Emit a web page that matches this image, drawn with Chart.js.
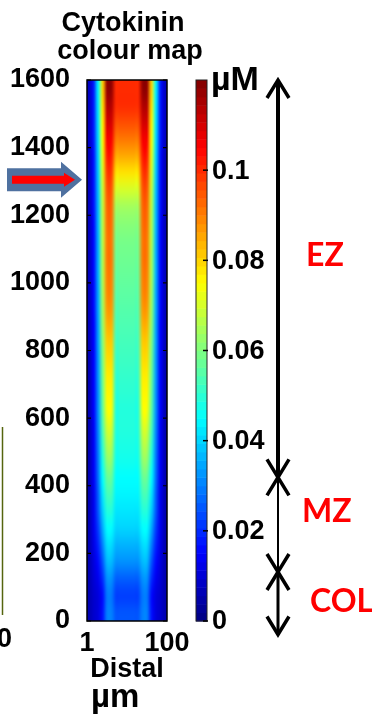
<!DOCTYPE html>
<html>
<head>
<meta charset="utf-8">
<script src="https://cdn.jsdelivr.net/npm/chart.js@4.4.1/dist/chart.umd.min.js"></script>
<style>
    html, body { margin: 0; padding: 0; background: #fff; }
    #wrap { position: relative; width: 372px; height: 714px; overflow: hidden; }
</style>
</head>
<body>
<div id="wrap"><canvas id="mapChart" width="372" height="714"></canvas></div>
<script>
// distance from the root tip (µm), row centres from bottom to top
const rowCentres = [25, 75, 125, 175, 225, 275, 325, 375, 425, 475, 525, 575, 625, 675, 725, 775,
    825, 875, 925, 975, 1025, 1075, 1125, 1175, 1225, 1275, 1325, 1375, 1425, 1475, 1525, 1575];

// cytokinin (µM) read across the root width, one array per radial band
const rimConc = [0.006, 0.006, 0.006, 0.006, 0.006, 0.006, 0.006, 0.006, 0.006, 0.006, 0.006, 0.006, 0.006, 0.006, 0.006, 0.006,
    0.007, 0.007, 0.007, 0.007, 0.007, 0.007, 0.007, 0.007, 0.007, 0.007, 0.007, 0.007, 0.008, 0.008, 0.008, 0.008];
const outerConc = [0.009, 0.009, 0.010, 0.011, 0.012, 0.013, 0.013, 0.013, 0.014, 0.014, 0.014, 0.014, 0.015, 0.015, 0.015, 0.015,
    0.015, 0.015, 0.016, 0.016, 0.016, 0.016, 0.016, 0.016, 0.017, 0.017, 0.017, 0.017, 0.018, 0.018, 0.018, 0.018];
const flankConc = [0.011, 0.011, 0.013, 0.016, 0.019, 0.022, 0.025, 0.026, 0.028, 0.029, 0.030, 0.031, 0.032, 0.032, 0.033, 0.033,
    0.034, 0.034, 0.035, 0.035, 0.036, 0.036, 0.036, 0.037, 0.037, 0.038, 0.039, 0.040, 0.041, 0.042, 0.043, 0.044];
const edgeConc = [0.017, 0.016, 0.020, 0.025, 0.030, 0.035, 0.039, 0.042, 0.045, 0.048, 0.051, 0.054, 0.056, 0.057, 0.058, 0.059,
    0.060, 0.062, 0.063, 0.064, 0.065, 0.065, 0.066, 0.066, 0.067, 0.068, 0.070, 0.072, 0.074, 0.076, 0.078, 0.080];
const peakConc = [0.030, 0.029, 0.032, 0.037, 0.041, 0.045, 0.049, 0.053, 0.057, 0.062, 0.066, 0.070, 0.074, 0.076, 0.077, 0.079,
    0.081, 0.084, 0.087, 0.089, 0.090, 0.091, 0.091, 0.092, 0.093, 0.095, 0.098, 0.102, 0.106, 0.110, 0.114, 0.118];
const centreConc = [0.025, 0.022, 0.026, 0.032, 0.036, 0.040, 0.042, 0.044, 0.045, 0.047, 0.048, 0.049, 0.049, 0.050, 0.051, 0.052,
    0.053, 0.054, 0.055, 0.056, 0.057, 0.058, 0.059, 0.061, 0.064, 0.070, 0.078, 0.085, 0.091, 0.096, 0.100, 0.100];

// which band each of the 18 columns (1..100 µm across) belongs to
const colProfile = ['rim', 'outer', 'flank', 'edge', 'peak', 'peak', 'centre', 'centre', 'centre',
    'centre', 'centre', 'centre', 'peak', 'peak', 'edge', 'flank', 'outer', 'rim'];

const xTicks = [1, 100];
const yTicks = [0, 200, 400, 600, 800, 1000, 1200, 1400, 1600];
const cbTicks = [0, 0.02, 0.04, 0.06, 0.08, 0.1];
const cbMax = 0.12;

const zoneNames = ['EZ', 'MZ', 'COL'];
const zoneTop = [1600, 425, 145];
const zoneBottom = [425, 145, -40];
const zoneLabelAt = [1080, 322, 56];
const arrowAt = 1305;

const boldFont = 'bold 27px "Liberation Sans", Arial, sans-serif';

function jet(v) {
    const t = Math.min(Math.max(v / cbMax, 0), 1);
    const ch = c => Math.round(255 * Math.min(Math.max(1.5 - Math.abs(4 * t - c), 0), 1));
    return [ch(3), ch(2), ch(1)];
}

function buildMapImage() {
    const profiles = { rim: rimConc, outer: outerConc, flank: flankConc, edge: edgeConc, peak: peakConc, centre: centreConc };
    const off = document.createElement('canvas');
    off.width = colProfile.length;
    off.height = rowCentres.length;
    const octx = off.getContext('2d');
    const img = octx.createImageData(off.width, off.height);
    rowCentres.forEach((_, r) => {
        const py = off.height - 1 - r;
        colProfile.forEach((name, c) => {
            const rgb = jet(profiles[name][r]);
            const i = (py * off.width + c) * 4;
            img.data[i] = rgb[0];
            img.data[i + 1] = rgb[1];
            img.data[i + 2] = rgb[2];
            img.data[i + 3] = 255;
        });
    });
    octx.putImageData(img, 0, 0);
    return off;
}

function doubleArrow(ctx, x, yTop, yBot, lw) {
    ctx.save();
    ctx.strokeStyle = '#000';
    ctx.lineWidth = lw;
    ctx.beginPath();
    ctx.moveTo(x, yTop + 2);
    ctx.lineTo(x, yBot - 2);
    ctx.stroke();
    ctx.lineWidth = 3.5;
    ctx.lineJoin = 'miter';
    ctx.beginPath();
    ctx.moveTo(x - 11, yTop + 18);
    ctx.lineTo(x, yTop);
    ctx.lineTo(x + 11, yTop + 18);
    ctx.moveTo(x - 11, yBot - 18);
    ctx.lineTo(x, yBot);
    ctx.lineTo(x + 11, yBot - 18);
    ctx.stroke();
    ctx.restore();
}

const mapPlugin = {
    id: 'cytokininMap',
    beforeDatasetsDraw(chart) {
        const { ctx, chartArea, scales } = chart;
        const step = rowCentres[1] - rowCentres[0];
        const left = scales.x.getPixelForValue(xTicks[0]);
        const right = scales.x.getPixelForValue(xTicks[1]);
        const top = scales.y.getPixelForValue(rowCentres[rowCentres.length - 1] + step / 2);
        const bottom = scales.y.getPixelForValue(rowCentres[0] - step / 2);
        ctx.save();
        ctx.beginPath();
        ctx.rect(chartArea.left, chartArea.top, chartArea.width, chartArea.height);
        ctx.clip();
        ctx.imageSmoothingEnabled = true;
        ctx.imageSmoothingQuality = 'high';
        ctx.drawImage(buildMapImage(), left, top, right - left, bottom - top);
        ctx.restore();
    },
    afterDraw(chart) {
        const { ctx, chartArea, scales } = chart;
        const y = scales.y, c = scales.c;

        // frame and inner ticks
        ctx.save();
        ctx.strokeStyle = '#000';
        ctx.lineWidth = 1.5;
        ctx.strokeRect(chartArea.left, chartArea.top, chartArea.width, chartArea.height);
        ctx.lineWidth = 1.2;
        yTicks.forEach(v => {
            const py = y.getPixelForValue(v);
            ctx.beginPath();
            ctx.moveTo(chartArea.left, py); ctx.lineTo(chartArea.left + 4, py);
            ctx.moveTo(chartArea.right, py); ctx.lineTo(chartArea.right - 4, py);
            ctx.stroke();
        });
        ctx.restore();

        // colour bar
        const cbLeft = chartArea.right + 29, cbW = 11;
        const levels = 64;
        for (let i = 0; i < levels; i++) {
            const v0 = cbMax * i / levels, v1 = cbMax * (i + 1) / levels;
            const rgb = jet((v0 + v1) / 2);
            const p0 = c.getPixelForValue(v0), p1 = c.getPixelForValue(v1);
            ctx.fillStyle = `rgb(${rgb[0]},${rgb[1]},${rgb[2]})`;
            ctx.fillRect(cbLeft, p1, cbW, p0 - p1 + 0.5);
        }
        ctx.save();
        ctx.strokeStyle = '#222';
        ctx.lineWidth = 1;
        ctx.strokeRect(cbLeft, c.getPixelForValue(cbMax), cbW, c.getPixelForValue(0) - c.getPixelForValue(cbMax));
        ctx.lineWidth = 1.5;
        ctx.strokeStyle = '#000';
        ctx.fillStyle = '#000';
        ctx.font = boldFont;
        ctx.textAlign = 'left';
        ctx.textBaseline = 'middle';
        cbTicks.forEach(v => {
            const py = c.getPixelForValue(v);
            ctx.beginPath();
            ctx.moveTo(cbLeft + cbW - 4, py); ctx.lineTo(cbLeft + cbW + 1, py);
            ctx.stroke();
            ctx.fillText(String(v), cbLeft + cbW + 5, py + 1);
        });
        ctx.textBaseline = 'alphabetic';
        ctx.font = 'bold 34px "Liberation Sans", Arial, sans-serif';
        ctx.fillText('µM', cbLeft + cbW + 4, 90);
        ctx.restore();

        // zone arrows and labels
        const lineW = [4, 2, 3];
        const labelX = { EZ: 306, MZ: 302, COL: 310 };
        zoneNames.forEach((name, i) => {
            doubleArrow(ctx, 278, y.getPixelForValue(zoneTop[i]), y.getPixelForValue(zoneBottom[i]), lineW[i]);
            ctx.save();
            ctx.fillStyle = '#ff0000';
            ctx.font = 'bold 32px Lato, "Open Sans", sans-serif';
            ctx.textAlign = 'left';
            ctx.textBaseline = 'middle';
            ctx.fillText(name, labelX[name], y.getPixelForValue(zoneLabelAt[i]));
            ctx.restore();
        });

        // titles
        ctx.save();
        ctx.fillStyle = '#000';
        ctx.font = boldFont;
        ctx.textAlign = 'center';
        ctx.fillText('Cytokinin', 123, 31);
        ctx.fillText('colour map', 130, 59);
        ctx.fillText('Distal', 127, 677);
        ctx.textAlign = 'left';
        ctx.font = 'bold 33px "Liberation Sans", Arial, sans-serif';
        ctx.fillText('µm', 91, 707);
        ctx.font = boldFont;
        ctx.fillText('0', -3, 647);
        ctx.restore();

        // block arrow pointing at the marked position
        const ay = y.getPixelForValue(arrowAt);
        ctx.save();
        ctx.fillStyle = '#4f71a0';
        ctx.beginPath();
        ctx.moveTo(7, ay - 11.5); ctx.lineTo(61, ay - 11.5); ctx.lineTo(61, ay - 18);
        ctx.lineTo(82, ay); ctx.lineTo(61, ay + 18); ctx.lineTo(61, ay + 11.5); ctx.lineTo(7, ay + 11.5);
        ctx.closePath();
        ctx.fill();
        ctx.fillStyle = '#ff0000';
        ctx.beginPath();
        ctx.moveTo(12, ay - 4); ctx.lineTo(64, ay - 4); ctx.lineTo(64, ay - 7);
        ctx.lineTo(75, ay); ctx.lineTo(64, ay + 7); ctx.lineTo(64, ay + 4); ctx.lineTo(12, ay + 4);
        ctx.closePath();
        ctx.fill();
        ctx.restore();

        // edge of the neighbouring panel
        ctx.save();
        ctx.strokeStyle = '#55650f';
        ctx.lineWidth = 1.5;
        ctx.beginPath();
        ctx.moveTo(2.5, 427); ctx.lineTo(2.5, 615);
        ctx.stroke();
        ctx.restore();
    }
};

document.addEventListener('DOMContentLoaded', function() {
    const tickFont = { family: '"Liberation Sans", Arial, sans-serif', size: 27, weight: 'bold' };
    new Chart(document.getElementById('mapChart').getContext('2d'), {
        type: 'scatter',
        data: { datasets: [] },
        options: {
            responsive: false,
            animation: false,
            layout: { padding: { top: 80, right: 205, left: 0, bottom: 0 } },
            plugins: { legend: { display: false }, tooltip: { enabled: false } },
            scales: {
                x: {
                    type: 'linear', min: xTicks[0], max: xTicks[1],
                    afterBuildTicks: s => { s.ticks = xTicks.map(v => ({ value: v })); },
                    afterFit: s => { s.height = 93; },
                    grid: { display: false }, border: { display: false },
                    ticks: { font: tickFont, color: '#000', padding: -2, maxRotation: 0, autoSkip: false, callback: v => String(v) }
                },
                y: {
                    type: 'linear', min: 0, max: 1600,
                    afterBuildTicks: s => { s.ticks = yTicks.map(v => ({ value: v })); },
                    afterFit: s => { s.width = 87; },
                    grid: { display: false }, border: { display: false },
                    ticks: { font: tickFont, color: '#000', padding: 9, autoSkip: false, callback: v => String(v) }
                },
                c: { type: 'linear', axis: 'y', min: 0, max: cbMax, display: false }
            }
        },
        plugins: [mapPlugin]
    });
});
</script>
</body>
</html>
